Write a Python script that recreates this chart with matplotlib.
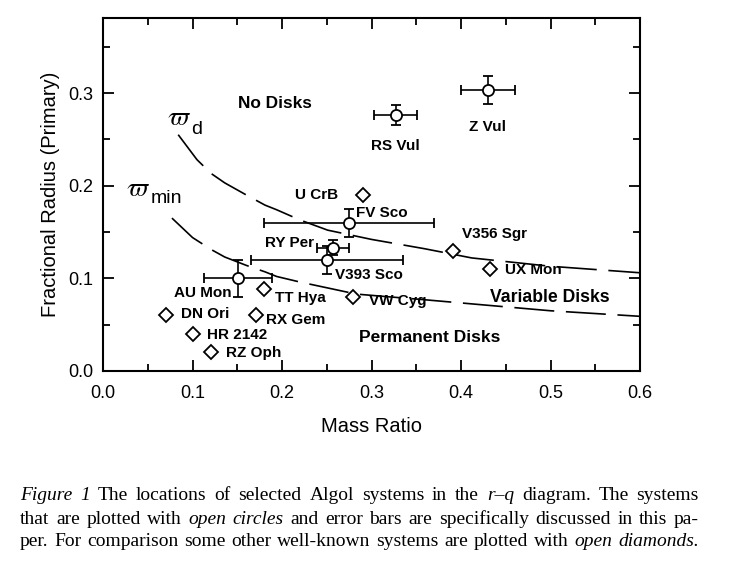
import numpy as np
import matplotlib.pyplot as plt
from matplotlib.ticker import MultipleLocator

plt.rcParams['mathtext.fontset'] = 'stix'

# systems with error bars (open circles)
circ_names = ['Z Vul', 'RS Vul', 'FV Sco', 'RY Per', 'V393 Sco', 'AU Mon']
circ_q = [0.43, 0.327, 0.275, 0.257, 0.25, 0.151]
circ_r = [0.303, 0.276, 0.160, 0.133, 0.120, 0.100]
circ_qerr = [0.03, 0.024, 0.095, 0.018, 0.085, 0.038]
circ_rerr = [0.015, 0.011, 0.015, 0.008, 0.015, 0.020]

# comparison systems (open diamonds)
diam_names = ['U CrB', 'V356 Sgr', 'UX Mon', 'TT Hya', 'VW Cyg',
              'DN Ori', 'RX Gem', 'HR 2142', 'RZ Oph']
diam_q = [0.291, 0.391, 0.432, 0.180, 0.279, 0.070, 0.171, 0.101, 0.121]
diam_r = [0.190, 0.129, 0.110, 0.089, 0.080, 0.060, 0.060, 0.040, 0.020]

# boundary curves
wd_q = [0.084, 0.105, 0.121, 0.136, 0.16, 0.181, 0.194, 0.22, 0.251, 0.30, 0.359, 0.412, 0.50, 0.60]
wd_r = [0.255, 0.228, 0.213, 0.203, 0.190, 0.179, 0.174, 0.163, 0.152, 0.142, 0.132, 0.122, 0.113, 0.106]
wmin_q = [0.077, 0.10, 0.121, 0.136, 0.16, 0.181, 0.194, 0.22, 0.254, 0.283, 0.32, 0.358, 0.417, 0.50, 0.60]
wmin_r = [0.165, 0.144, 0.131, 0.123, 0.114, 0.107, 0.102, 0.096, 0.089, 0.083, 0.080, 0.077, 0.072, 0.065, 0.059]

# label placement (offset from point in data units, alignment)
circ_lab = [(0.0, -0.04, 'center'), (0.0, -0.033, 'center'), (0.008, 0.011, 'left'),
            (-0.021, 0.005, 'right'), (0.009, -0.016, 'left'), (-0.007, -0.016, 'right')]
diam_lab = [(-0.028, 0.0, 'right'), (0.010, 0.019, 'left'), (0.017, -0.001, 'left'),
            (0.012, -0.010, 'left'), (0.018, -0.004, 'left'), (0.017, 0.001, 'left'),
            (0.011, -0.005, 'left'), (0.015, -0.001, 'left'), (0.016, -0.001, 'left')]

fig = plt.figure(figsize=(7.37, 5.61), dpi=100)
ax = fig.add_axes([0.1398, 0.3387, 0.7286, 0.6293])
rend = fig.canvas.get_renderer()

sans = 'Liberation Sans'
dash = (0, (24, 7))
ax.plot(wd_q, wd_r, color='black', lw=1.2, linestyle=dash)
ax.plot(wmin_q, wmin_r, color='black', lw=1.2, linestyle=dash)

ax.errorbar(circ_q, circ_r, xerr=circ_qerr, yerr=circ_rerr, fmt='o', ms=8,
            mfc='white', mec='black', mew=1.3, ecolor='black', elinewidth=1.2,
            capsize=3.5, capthick=1.2, zorder=3)
ax.plot(diam_q, diam_r, 'D', ms=7.5, mfc='white', mec='black', mew=1.3,
        linestyle='none', zorder=3)

for n, q, r, (dx, dy, ha) in zip(circ_names, circ_q, circ_r, circ_lab):
    ax.text(q + dx, r + dy, n, ha=ha, va='center', fontsize=11,
            fontweight='bold', family=sans)
for n, q, r, (dx, dy, ha) in zip(diam_names, diam_q, diam_r, diam_lab):
    ax.text(q + dx, r + dy, n, ha=ha, va='center', fontsize=11,
            fontweight='bold', family=sans)

ax.text(0.192, 0.289, 'No Disks', ha='center', va='center', fontsize=12.4,
        fontweight='bold', family=sans)
ax.text(0.432, 0.079, 'Variable Disks', ha='left', va='center', fontsize=12.7,
        fontweight='bold', family=sans)
ax.text(0.286, 0.036, 'Permanent Disks', ha='left', va='center', fontsize=12.5,
        fontweight='bold', family=sans)

ax.set_xlim(0, 0.6)
ax.set_ylim(0, 0.381)

# varpi symbols with upright sans subscripts
for qx, ry, sub, off in [(0.071, 0.266, 'd', -6.5), (0.026, 0.189, 'min', -5)]:
    t = ax.text(qx, ry, r'$\varpi$', fontsize=19, ha='left', va='baseline')
    wpt = t.get_window_extent(rend).width * 72 / fig.dpi
    ax.annotate(sub, xy=(qx, ry), xytext=(wpt + 0.3, off),
                textcoords='offset points', ha='left', va='baseline',
                fontsize=14, family=sans)

ax.xaxis.set_major_locator(MultipleLocator(0.1))
ax.xaxis.set_minor_locator(MultipleLocator(0.05))
ax.yaxis.set_major_locator(MultipleLocator(0.1))
ax.yaxis.set_minor_locator(MultipleLocator(0.05))
ax.tick_params(which='both', direction='in', top=True, right=True, width=1.3,
               labelsize=13)
ax.tick_params(which='major', length=8)
ax.tick_params(which='minor', length=5)
ax.tick_params(axis='x', pad=10)
ax.tick_params(axis='y', pad=7)
ax.set_xticklabels([f'{v:.1f}' for v in ax.get_xticks()], family=sans)
ax.set_yticklabels([f'{v:.1f}' for v in ax.get_yticks()], family=sans)
for s in ax.spines.values():
    s.set_linewidth(1.5)
ax.set_xlabel('Mass Ratio', fontsize=14.5, family=sans, labelpad=11)
ax.set_ylabel('Fractional Radius (Primary)', fontsize=14.5, family=sans, labelpad=6)

# caption, justified between two margins
caption = [
    [('Figure', 'italic'), ('1', 'italic'), ('The', 'normal'), ('locations', 'normal'),
     ('of', 'normal'), ('selected', 'normal'), ('Algol', 'normal'), ('systems', 'normal'),
     ('in', 'normal'), ('the', 'normal'), ('r\u2013q', 'italic'), ('diagram.', 'normal'),
     ('The', 'normal'), ('systems', 'normal')],
    [('that', 'normal'), ('are', 'normal'), ('plotted', 'normal'), ('with', 'normal'),
     ('open', 'italic'), ('circles', 'italic'), ('and', 'normal'), ('error', 'normal'),
     ('bars', 'normal'), ('are', 'normal'), ('specifically', 'normal'),
     ('discussed', 'normal'), ('in', 'normal'), ('this', 'normal'), ('pa-', 'normal')],
    [('per.', 'normal'), ('For', 'normal'), ('comparison', 'normal'), ('some', 'normal'),
     ('other', 'normal'), ('well-known', 'normal'), ('systems', 'normal'), ('are', 'normal'),
     ('plotted', 'normal'), ('with', 'normal'), ('open', 'italic'), ('diamonds.', 'italic')],
]
cap_y = [496, 519, 541]
x0, x1 = 20, 699
W, H = fig.bbox.width, fig.bbox.height
for words, yp in zip(caption, cap_y):
    arts = [fig.text(0, 1 - yp / H, w, fontsize=14, family='Liberation Serif',
                     style=st, va='center') for w, st in words]
    widths = [a.get_window_extent(rend).width for a in arts]
    gap = (x1 - x0 - sum(widths)) / (len(arts) - 1)
    x = x0
    for a, wd in zip(arts, widths):
        a.set_x(x / W)
        x += wd + gap

fig.savefig('out.png', dpi=100)
